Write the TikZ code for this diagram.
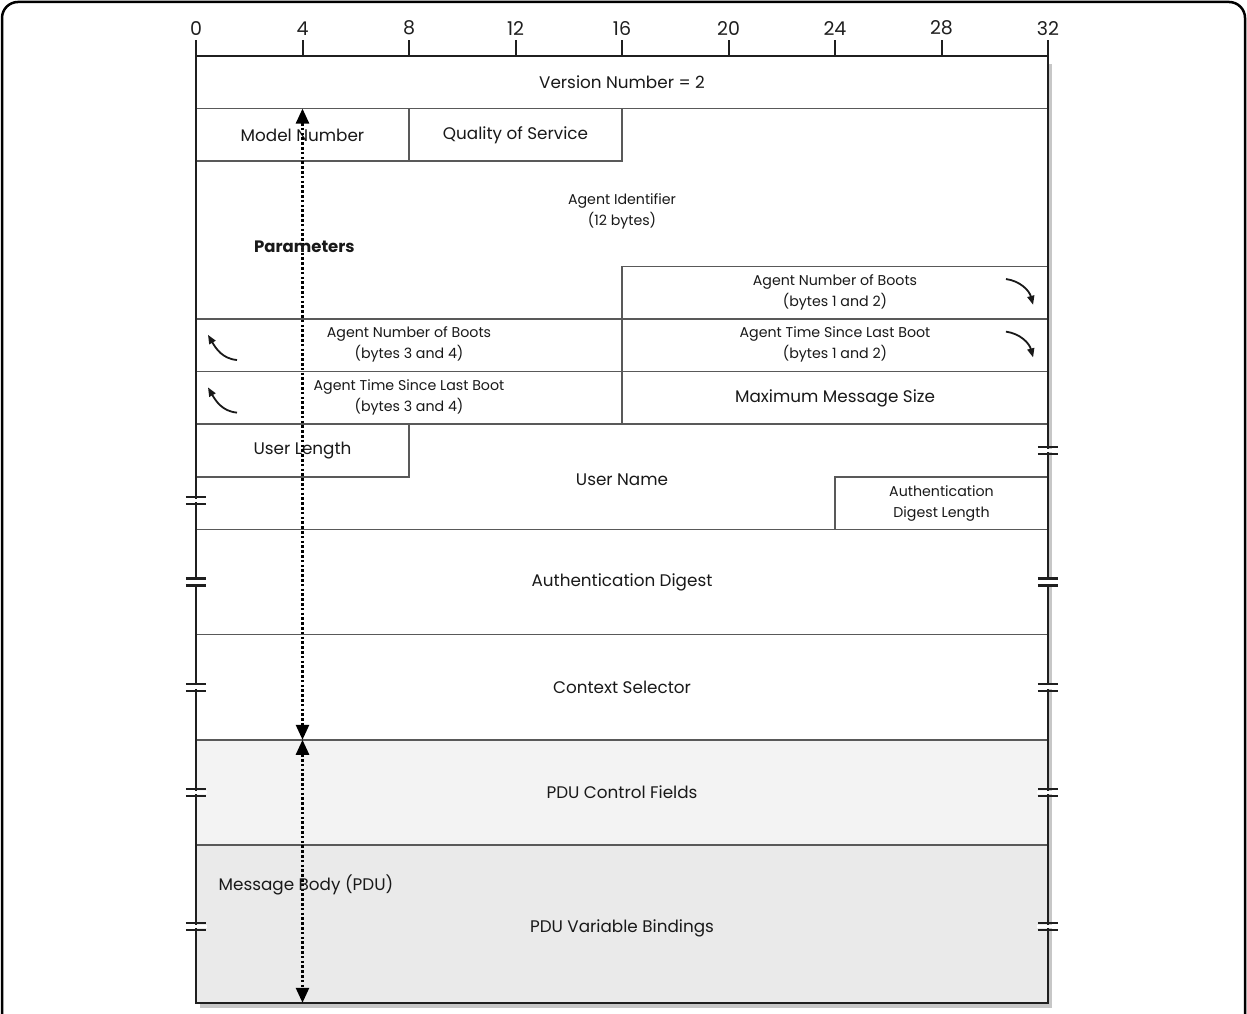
\documentclass[tikz,border=0pt]{standalone}
\usepackage{fontspec}
\setmainfont{Poppins}
\usetikzlibrary{arrows.meta}
\definecolor{ctlgray}{HTML}{F3F3F3}
\definecolor{bodygray}{HTML}{EAEAEA}

\begin{document}
\begin{tikzpicture}[x=26.625pt,y=-52.6pt,
    fld/.style={black!65,line width=1.4pt},
    frm/.style={black!88,line width=2.5pt},
    tck/.style={black!88,line width=2pt},
    lbl/.style={font=\fontsize{16.8}{19}\selectfont,text=black!90},
    sml/.style={font=\fontsize{14.2}{21}\selectfont,text=black!90,align=center},
    brkln/.style={black!88,line width=2.2pt},
    span/.style={black,line width=2.6pt,dash pattern=on 2.6pt off 2.2pt,
      {Triangle[length=15pt,width=13pt]}-{Triangle[length=15pt,width=13pt]}},
    curl/.style={black!90,line width=1.8pt,-{Triangle[length=9pt,width=7pt]}}]
  \useasboundingbox (-7.3615,-1.0646) rectangle (39.474,18.213);
  % outer frame, open at the bottom
  \draw[line width=2.5pt,rounded corners=16pt]
    (-7.286,18.4) -- (-7.286,-1.027) -- (39.40,-1.027) -- (39.40,18.4);
  % shadow, background and the two PDU bands
  \fill[black!22] (0.15,0.15) rectangle (32.16,18.09);
  \fill[white] (0,0) rectangle (32,18);
  \fill[ctlgray] (0,13) rectangle (32,15);
  \fill[bodygray] (0,15) rectangle (32,18);
  % bit ruler
  \foreach \b in {0,4,...,32}{
    \draw[tck] (\b,0) -- (\b,-0.3) node[anchor=south,inner sep=4pt,
      font=\fontsize{19}{19}\selectfont,text=black!88] (bit\b) {\b};
  }
  % field borders
  \draw[fld] (0,1) -- (32,1);
  \draw[fld] (0,2) -- (16,2) -- (16,1) (8,1) -- (8,2);
  \draw[fld] (16,7) -- (16,4) -- (32,4);
  \foreach \r in {5,6,7,9,11,13,15}{ \draw[fld] (0,\r) -- (32,\r); }
  \draw[fld] (0,8) -- (8,8) -- (8,7);
  \draw[fld] (32,8) -- (24,8) -- (24,9);
  \draw[frm] (0,-0.3) -- (0,18) -- (32,18) -- (32,-0.3) (0,0) -- (32,0);
  % breaks in the side walls
  \foreach \x/\r in {0/8.45,0/10,0/12,0/14,0/16.55,32/7.5,32/10,32/12,32/14,32/16.55}{
    \fill[white] (\x-0.4,\r-0.035) rectangle (\x+0.4,\r+0.035);
    \draw[brkln] (\x-0.38,\r-0.065) -- (\x+0.38,\r-0.065)
                 (\x-0.38,\r+0.065) -- (\x+0.38,\r+0.065);
  }
  % field names
  \node[lbl] (ver) at (16,0.5) {Version Number = 2};
  \node[lbl] (model) at (4,1.5) {Model Number};
  \node[lbl] (qos) at (12,1.5) {Quality of Service};
  \node[sml] (aid) at (16,2.96) {Agent Identifier\\(12 bytes)};
  \node[sml] (boot12) at (24,4.49) {Agent Number of Boots\\(bytes 1 and 2)};
  \node[sml] (boot34) at (8,5.49) {Agent Number of Boots\\(bytes 3 and 4)};
  \node[sml] (time12) at (24,5.49) {Agent Time Since Last Boot\\(bytes 1 and 2)};
  \node[sml] (time34) at (8,6.49) {Agent Time Since Last Boot\\(bytes 3 and 4)};
  \node[lbl] (maxsz) at (24,6.5) {Maximum Message Size};
  \node[lbl] (ulen) at (4,7.5) {User Length};
  \node[lbl] (uname) at (16,8.05) {User Name};
  \node[sml] (adlen) at (28,8.5) {Authentication\\Digest Length};
  \node[lbl] (adig) at (16,10) {Authentication Digest};
  \node[lbl] (ctx) at (16,12) {Context Selector};
  \node[lbl] (ctl) at (16,14) {PDU Control Fields};
  \node[lbl] (vbind) at (16,16.58) {PDU Variable Bindings};
  % the two spans
  \coordinate (parA) at (4,1);
  \coordinate (parB) at (4,13);
  \coordinate (bodyB) at (4,18);
  \draw[span] (parA) -- (parB);
  \draw[span] (parB) -- (bodyB);
  \node[lbl,font=\fontsize{16.5}{19}\selectfont\bfseries] (par) at (4.07,3.63) {Parameters};
  \node[lbl] (body) at (4.13,15.76) {Message Body (PDU)};
  % carry-over arrows
  \foreach \r in {4,5}{
    \coordinate (cr\r) at (30.42,\r+0.24);
    \coordinate (cs\r) at (31.44,\r+0.73);
    \draw[curl] (cr\r) to[out=-8,in=105] (cs\r);
  }
  \foreach \r in {5,6}{
    \coordinate (cl\r) at (1.54,\r+0.78);
    \coordinate (ck\r) at (0.45,\r+0.30);
    \draw[curl] (cl\r) to[out=175,in=-60] (ck\r);
  }
\end{tikzpicture}
\end{document}
